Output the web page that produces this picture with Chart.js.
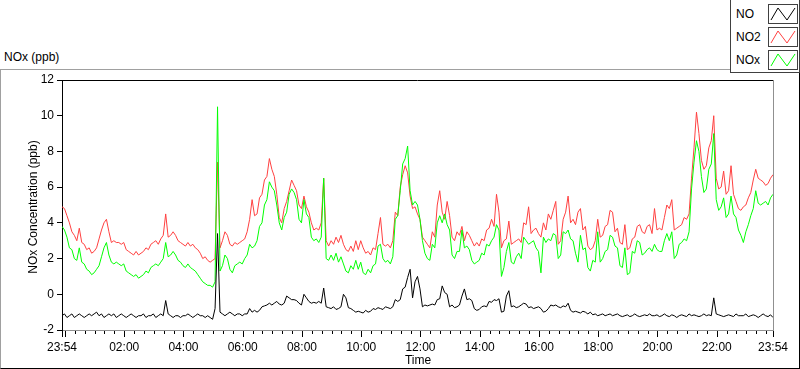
<!DOCTYPE html>
<html>
<head>
<meta charset="utf-8">
<script src="https://cdn.jsdelivr.net/npm/chart.js@4.4.1/dist/chart.umd.min.js"></script>
<style>
  html, body { margin: 0; padding: 0; background: #fff; }
  body { width: 800px; height: 369px; position: relative; overflow: hidden; font-family: 'Liberation Sans', Arial, sans-serif; font-size: 12px; }
  #frame { position: absolute; left: 0; top: 69px; width: 798px; height: 298px; border-left: 1px solid #a0a0a0; border-top: 1px solid #a0a0a0; border-right: 1px solid #000; border-bottom: 1px solid #000; }
  #canvas { position: absolute; left: 0; top: 0; }
  #units { position: absolute; left: 4px; top: 50px; }
  #legend { position: absolute; left: 730px; top: 0; width: 68px; height: 72px; border: 1px solid #404040; border-top: none; background: #fff; }
  .row { position: absolute; left: 5px; width: 62px; height: 20px; }
  .row span { position: absolute; left: 0; top: 3px; }
  .row svg { position: absolute; left: 32px; top: 0; border: 1px solid #404040; background: #fff; }
</style>
</head>
<body>
<div id="frame"></div>
<div id="units">NOx (ppb)</div>
<canvas id="canvas" width="800" height="369"></canvas>
<div id="legend"></div>
<script>
'use strict';

// one reading every 5 minutes, starting 23:54
const seriesNames = ['NO', 'NO2', 'NOx'];
const seriesColors = ['#000000', '#ff4040', '#00ff00'];

const noValues = [
  -1.2,-1.1,-1.3,-1.2,-1.1,-1.3,-1.2,-1.1,-1.2,-1.3,-1.2,-1.1,
  -1.2,-1.1,-1.0,-1.2,-1.1,-1.3,-1.2,-1.1,-1.2,-1.1,-1.3,-1.2,
  -1.1,-1.2,-1.3,-1.2,-1.1,-1.2,-1.3,-1.2,-1.2,-1.1,-1.3,-1.2,
  -1.2,-1.1,-1.3,-1.2,-1.1,-1.2,-0.35,-1.1,-1.2,-1.3,-1.2,-1.2,
  -1.3,-1.2,-1.2,-1.1,-1.2,-1.3,-1.2,-1.1,-1.2,-1.2,-1.3,-1.2,
  -1.3,-1.4,-0.8,3.4,-1.0,-1.1,-1.2,-1.1,-1.0,-1.1,-1.2,-1.1,
  -1.1,-1.2,-1.1,-1.1,-0.8,-1.0,-0.9,-1.0,-0.9,-0.7,-0.65,-0.6,
  -0.5,-0.6,-0.5,-0.4,-0.55,-0.6,-0.5,-0.1,-0.2,-0.3,-0.3,-0.35,
  -0.5,-0.6,0.0,-0.2,-0.4,-0.5,-0.45,-0.5,-0.4,-0.5,0.35,-0.7,
  -0.75,-0.8,-0.7,-0.85,-0.8,-0.7,0.0,-0.2,-0.75,-0.8,-0.9,-1.0,
  -0.95,-1.0,-1.05,-0.9,-1.0,-0.95,-0.8,-0.85,-0.75,-0.8,-0.85,-0.7,
  -0.75,-0.8,-0.7,-0.3,-0.4,-0.3,0.3,0.4,0.94,1.4,-0.2,0.7,
  1.0,0.3,-0.7,-0.6,-0.65,-0.6,-0.55,-0.6,-0.3,-0.25,0.47,0.1,
  0.0,-0.7,-0.6,-0.75,-0.7,-0.6,-0.1,0.3,-0.3,-0.25,-0.35,-0.8,
  -0.9,-0.85,-0.7,-0.65,-0.7,-0.4,-0.45,-0.3,-0.35,-0.25,-1.0,-0.95,
  -0.1,0.2,-0.7,-0.65,-0.75,-0.7,-0.6,-0.5,-0.55,-0.75,-0.7,-0.8,
  -0.75,-0.7,-0.8,-1.0,-0.95,-0.8,-0.6,-0.65,-0.6,-0.7,-0.75,-0.65,
  -0.7,-0.5,-0.9,-1.0,-0.95,-1.0,-1.05,-0.95,-1.0,-1.1,-1.0,-1.15,
  -1.1,-1.2,-1.15,-1.1,-1.2,-1.15,-1.1,-1.2,-1.15,-1.1,-1.2,-1.25,
  -1.2,-1.15,-1.25,-1.2,-1.1,-1.2,-1.25,-1.2,-1.15,-1.2,-1.1,-1.2,
  -1.2,-1.15,-1.25,-1.2,-1.1,-1.2,-1.25,-1.15,-1.2,-1.3,-1.2,-1.15,
  -1.2,-1.25,-1.1,-1.2,-1.15,-1.2,-1.25,-1.2,-1.1,-1.2,-1.15,-1.2,
  -0.2,-1.1,-1.15,-1.2,-1.25,-1.2,-1.15,-1.2,-1.25,-1.1,-1.2,-1.2,
  -1.2,-1.1,-1.25,-1.2,-1.15,-1.2,-1.3,-1.2,-1.1,-1.2,-1.25,-1.15,
  -1.3
];

const no2Values = [
  4.9,4.8,4.4,4.0,3.5,3.3,3.0,3.7,2.9,2.8,2.5,2.6,
  2.3,2.4,2.6,3.1,3.6,4.0,4.2,3.5,2.9,3.0,2.9,2.9,
  2.8,2.9,2.5,2.4,2.3,2.2,2.4,2.2,2.3,2.4,2.6,2.5,
  2.8,2.9,3.0,2.8,3.1,3.3,4.5,3.2,3.3,3.5,3.3,3.0,
  2.9,2.8,2.7,2.9,2.7,2.8,2.6,2.5,2.3,2.0,2.1,1.9,
  1.8,1.9,2.0,7.4,2.6,3.0,3.5,3.3,2.8,2.7,2.9,2.8,
  2.9,3.0,3.1,3.5,4.2,5.3,4.4,4.5,5.4,5.6,6.4,6.6,
  7.6,7.0,6.6,5.6,4.3,4.0,4.8,5.2,5.8,6.4,6.1,5.8,
  5.0,4.8,5.5,4.9,4.6,4.0,3.6,3.7,3.6,4.0,6.5,3.0,
  2.7,3.0,2.8,3.2,2.9,3.3,2.8,2.5,2.4,2.7,2.4,3.0,
  2.5,3.0,2.6,2.3,2.4,2.2,2.6,2.5,3.4,4.3,2.8,2.7,
  2.8,2.6,3.0,4.6,4.4,6.0,6.7,7.2,6.8,5.5,4.8,4.9,
  4.5,4.2,3.2,3.0,2.8,2.6,3.5,3.2,5.0,5.8,4.6,4.2,
  5.2,4.4,3.2,3.0,3.5,3.3,3.8,3.0,3.5,3.3,3.0,2.7,
  2.9,2.7,3.1,3.0,3.6,3.7,4.2,3.8,5.6,4.6,2.6,3.0,
  3.1,4.1,2.8,2.9,3.0,3.1,2.9,4.0,3.9,4.9,3.4,3.6,
  3.7,3.4,3.2,4.0,3.6,4.5,4.2,4.7,5.2,2.8,3.0,4.2,
  4.6,5.5,4.0,4.2,3.9,4.6,4.8,3.6,3.8,2.7,2.5,2.6,
  3.0,4.2,3.2,3.3,3.8,3.9,4.7,4.6,3.5,3.7,2.9,2.8,
  3.9,2.5,2.6,3.1,3.2,3.8,3.9,3.5,3.4,3.8,3.9,3.4,
  4.8,3.6,3.7,3.6,4.3,5.0,4.8,5.3,3.6,3.7,3.8,3.9,
  4.3,4.2,4.5,6.5,8.2,10.2,9.0,7.5,7.0,7.2,8.2,8.6,
  10.0,6.5,5.9,6.0,6.9,5.6,5.8,7.2,5.6,5.2,4.8,4.7,
  4.9,5.0,5.4,5.7,6.4,7.0,6.5,6.4,6.3,6.1,6.2,6.5,
  6.7
];

const noxValues = [
  3.8,3.6,3.2,2.6,2.5,2.0,1.9,2.6,1.8,1.7,1.4,1.3,
  1.1,1.2,1.4,1.6,2.1,2.6,2.9,2.2,1.8,1.7,1.8,1.7,
  1.6,1.7,1.3,1.2,1.1,1.0,1.1,0.9,1.0,1.1,1.3,1.2,
  1.5,1.6,1.7,1.6,1.8,2.0,2.9,2.1,2.2,2.4,2.2,1.9,
  1.8,1.6,1.5,1.7,1.5,1.4,1.3,1.1,0.9,0.7,0.6,0.5,
  0.5,0.4,0.7,10.5,1.3,1.6,2.2,2.0,1.4,1.2,1.6,1.7,
  1.8,1.7,2.0,2.2,2.8,2.6,2.7,3.0,3.8,4.0,5.0,5.3,
  6.3,6.0,5.8,5.0,4.0,3.6,4.3,4.6,5.6,5.9,5.7,5.3,
  4.2,4.0,5.3,4.5,4.3,3.2,3.0,3.1,2.9,3.2,6.5,2.0,
  1.9,2.2,1.9,2.3,1.8,2.1,1.7,1.3,1.2,1.6,1.4,1.9,
  1.4,1.8,1.2,1.1,1.4,1.2,1.6,1.7,2.7,2.8,2.0,1.8,
  1.9,1.7,2.1,4.2,4.4,5.8,7.3,7.6,8.3,5.8,5.0,5.2,
  5.0,4.2,3.0,2.3,2.0,1.9,2.8,2.6,4.0,4.4,4.0,4.5,
  3.9,3.6,2.2,2.0,2.4,2.4,3.6,2.6,2.7,2.5,1.9,1.7,
  1.8,1.9,2.3,2.2,2.8,2.7,3.0,3.2,3.9,3.6,1.0,1.5,
  2.4,2.9,1.8,1.7,2.1,2.3,2.0,3.2,3.0,2.8,2.9,3.0,
  2.6,2.4,1.2,3.2,2.9,3.1,3.0,3.4,3.3,2.0,2.2,3.5,
  3.4,3.6,3.1,3.0,2.3,1.8,3.3,2.5,2.6,1.5,1.3,1.9,
  1.8,3.5,1.8,2.0,2.4,2.5,3.3,3.2,2.7,2.6,1.6,1.5,
  2.6,1.1,1.2,2.4,2.3,3.0,2.9,2.2,2.3,2.5,2.6,2.4,
  2.8,2.5,2.4,2.4,3.0,3.4,3.0,3.5,2.0,2.2,2.8,2.9,
  3.1,3.0,3.5,5.9,7.4,8.6,8.0,6.6,5.7,5.9,7.0,7.3,
  9.0,5.3,4.7,4.9,5.4,4.3,4.5,5.5,4.5,4.3,3.6,3.3,
  2.9,3.5,3.9,4.4,4.8,5.8,5.1,5.0,5.1,5.2,5.0,5.4,
  5.6
];

// x axis: minutes since 23:54
const tickMinutes = [0, 126, 246, 366, 486, 606, 726, 846, 966, 1086, 1206, 1326, 1440];
const tickLabels = ['23:54', '02:00', '04:00', '06:00', '08:00', '10:00', '12:00', '14:00', '16:00', '18:00', '20:00', '22:00', '23:54'];
const yTicks = [-2, 0, 2, 4, 6, 8, 10, 12];

function toPoints(values) {
  return values.map((v, i) => ({ x: i * 5, y: v }));
}

// legend box
const legend = document.getElementById('legend');
seriesNames.forEach((name, i) => {
  const row = document.createElement('div');
  row.className = 'row';
  row.style.top = (4 + i * 23) + 'px';
  row.innerHTML = `<span>${name}</span><svg width="28" height="18"><polyline points="2,15 9,3 18,15 26,3" fill="none" stroke="${seriesColors[i]}" stroke-width="1"/></svg>`;
  legend.appendChild(row);
});

const decorations = {
  id: 'decorations',
  afterDraw(chart) {
    const ctx = chart.ctx;
    const area = chart.chartArea;
    const xs = chart.scales.x;
    ctx.save();
    ctx.lineWidth = 1;
    // top and right edges of the plot
    ctx.strokeStyle = '#000';
    ctx.beginPath();
    ctx.moveTo(area.left, area.top + 0.5);
    ctx.lineTo(area.right, area.top + 0.5);
    ctx.stroke();
    ctx.strokeStyle = '#909090';
    ctx.beginPath();
    ctx.moveTo(area.right + 0.5, area.top);
    ctx.lineTo(area.right + 0.5, area.bottom);
    ctx.stroke();
    // x tick marks, minor every 20 min
    ctx.strokeStyle = '#000';
    const marks = [0, 1440];
    for (let t = 6; t <= 1440; t += 20) marks.push(t);
    marks.forEach(t => {
      const px = Math.round(xs.getPixelForValue(t)) + 0.5;
      const major = t === 0 || t === 1440 || (t - 6) % 120 === 0;
      ctx.beginPath();
      ctx.moveTo(px, area.bottom + 1);
      ctx.lineTo(px, area.bottom + (major ? 7 : 4));
      ctx.stroke();
    });
    // axis titles
    ctx.fillStyle = '#000';
    ctx.font = '12px "Liberation Sans", Arial, sans-serif';
    ctx.textAlign = 'center';
    ctx.textBaseline = 'middle';
    ctx.fillText('Time', 418, 361);
    ctx.translate(34, 207);
    ctx.rotate(-Math.PI / 2);
    ctx.fillText('NOx Concentration (ppb)', 0, 0);
    ctx.restore();
  }
};

Chart.defaults.font.family = '"Liberation Sans", Arial, sans-serif';
Chart.defaults.font.size = 12;
Chart.defaults.color = '#000';

const order = [0, 2, 1];
new Chart(document.getElementById('canvas').getContext('2d'), {
  type: 'line',
  data: {
    datasets: order.map(i => ({
      label: seriesNames[i],
      data: toPoints([noValues, no2Values, noxValues][i]),
      borderColor: seriesColors[i],
      borderWidth: 1,
      pointRadius: 0,
      tension: 0,
      fill: false
    }))
  },
  options: {
    responsive: false,
    devicePixelRatio: 1,
    animation: false,
    layout: { padding: { left: 0, top: 80, right: 27, bottom: 0 } },
    plugins: { legend: { display: false }, tooltip: { enabled: false } },
    scales: {
      x: {
        type: 'linear',
        min: 0,
        max: 1440,
        afterBuildTicks(scale) { scale.ticks = tickMinutes.map(v => ({ value: v })); },
        afterFit(scale) { scale.height = 39; },
        ticks: {
          autoSkip: false,
          maxRotation: 0,
          padding: 10,
          callback(value) { return tickLabels[tickMinutes.indexOf(value)]; }
        },
        grid: { display: true, drawOnChartArea: false, drawTicks: false },
        border: { color: '#909090' }
      },
      y: {
        min: -2,
        max: 12,
        afterBuildTicks(scale) { scale.ticks = yTicks.map(v => ({ value: v })); },
        afterFit(scale) { scale.width = 62; },
        ticks: { padding: 3 },
        grid: { drawOnChartArea: false, tickLength: 5, tickColor: '#000' },
        border: { color: '#000' }
      }
    }
  },
  plugins: [decorations]
});
</script>
</body>
</html>
